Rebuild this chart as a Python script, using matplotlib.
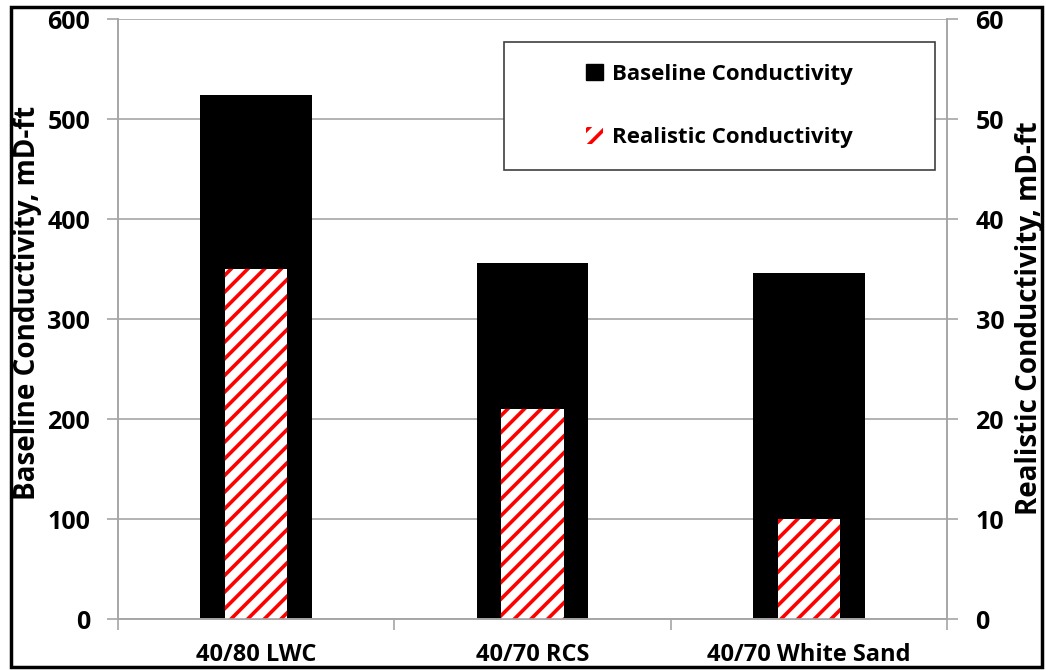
import numpy as np
import matplotlib
matplotlib.use("Agg")
import matplotlib.pyplot as plt
from matplotlib.patches import Rectangle, Patch

plt.rcParams['font.family'] = ['Open Sans', 'DejaVu Sans']
plt.rcParams['font.weight'] = 'bold'
plt.rcParams['hatch.linewidth'] = 2.6

categories = ["40/80 LWC", "40/70 RCS", "40/70 White Sand"]
baseline = [524, 356, 346]
realistic = [35, 21, 10]

grey = "#a6a6a6"

fig = plt.figure(figsize=(10.46, 6.70), dpi=100)
ax1 = fig.add_axes([0.1128, 0.0761, 0.7926, 0.8955])
ax2 = ax1.twinx()

x = np.arange(len(categories))
ax1.bar(x, baseline, width=0.405, color="black", zorder=2)
ax2.bar(x, realistic, width=0.225, facecolor="white", edgecolor="red",
        linewidth=0, hatch="//", zorder=2)

ax1.set_xlim(-0.5, 2.5)
ax1.set_ylim(0, 600)
ax2.set_ylim(0, 60)
ax1.set_yticks(np.arange(0, 601, 100))
ax2.set_yticks(np.arange(0, 61, 10))
ax1.yaxis.grid(True, color=grey, linewidth=1.2, zorder=0)
ax1.set_axisbelow(True)

ax1.set_xticks(x)
ax1.set_xticklabels(categories, fontsize=17, fontweight="bold")
ax1.set_xticks([-0.5, 0.5, 1.5, 2.5], minor=True)
ax1.tick_params(axis="x", which="major", length=0, pad=17)
ax1.tick_params(axis="x", which="minor", length=8, color=grey, width=1.2)
ax1.tick_params(axis="y", length=8, color=grey, width=1.2, labelsize=18, pad=12)
ax2.tick_params(axis="y", length=8, color=grey, width=1.2, labelsize=18, pad=12.5)

for a in (ax1, ax2):
    a.spines["top"].set_visible(False)
    for s in ("left", "right", "bottom"):
        a.spines[s].set_color(grey)
        a.spines[s].set_linewidth(1.2)

ax1.set_ylabel("Baseline Conductivity, mD-ft", fontsize=20, fontweight="bold")
ax2.set_ylabel("Realistic Conductivity, mD-ft", fontsize=20, fontweight="bold")
ax1.yaxis.set_label_coords(-0.092, 0.526)
ax2.yaxis.set_label_coords(1.082, 0.502)

# legend box
ax1.add_patch(Rectangle((0.4656, 0.748), 0.52, 0.2137, transform=ax1.transAxes,
                        facecolor="white", edgecolor="#404040", linewidth=1.2, zorder=5))
handles = [Patch(facecolor="black", edgecolor="black"),
           Patch(facecolor="white", edgecolor="red", linewidth=0, hatch="//")]
leg = ax2.legend(handles, ["Baseline Conductivity", "Realistic Conductivity"],
                 loc="center", bbox_to_anchor=(0.4656, 0.748, 0.52, 0.2137),
                 bbox_transform=ax1.transAxes, frameon=False, fontsize=16,
                 handlelength=0.75, handleheight=0.75, handletextpad=0.4,
                 labelspacing=1.9)
leg.set_zorder(6)

fig.patches.append(Rectangle((0.0105, 0.0045), 0.986, 0.985, transform=fig.transFigure,
                             fill=False, edgecolor="black", linewidth=2.5))

fig.savefig("out.png", dpi=100)
